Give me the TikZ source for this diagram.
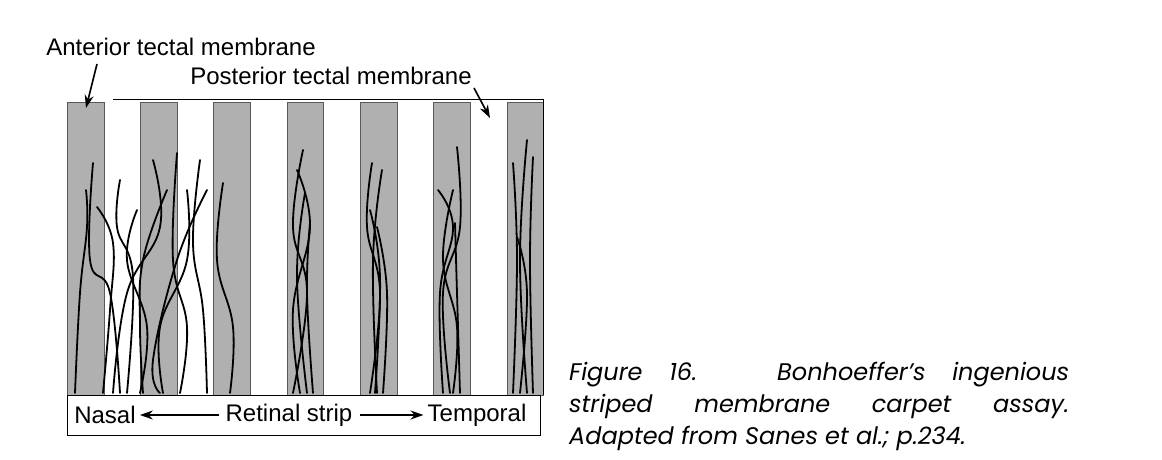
\documentclass[tikz,border=0pt]{standalone}
\usetikzlibrary{arrows.meta}
\usepackage{fontspec}
\setmainfont{Liberation Sans}
\newfontfamily\capfont{Poppins}
\begin{document}
\begin{tikzpicture}[x=1pt,y=-1pt,
  stripe/.style={fill=gray!62,draw=gray!70!black,line width=0.4pt},
  fiber/.style={line width=1.8pt,line cap=round},
  lbl/.style={font=\fontsize{24}{28}\selectfont,inner sep=1pt},
  arr/.style={-{Stealth[length=13pt,width=9pt]},line width=1.6pt}]
\useasboundingbox (0,0) rectangle (1162,460);
\foreach \i in {0,...,6}{
  \fill[stripe] (67+73.3*\i,102) rectangle (67+73.3*\i+36.7,395);
}
\draw[line width=0.6pt] (113,99) -- (543,99) -- (543,395);
\node[draw,line width=0.6pt,minimum width=473pt,minimum height=40pt,inner sep=0pt,anchor=north west] (strip) at (67,395) {};
% fibers
\foreach \p in {
 {(75,393)(80,293)(87,227)(86,190)},
 {(93,163)(90,260)(110,293)(120,393)},
 {(97,207)(113,243)(110,310)(103,393)},
 {(120,180)(117,227)(133,277)(127,393)},
 {(153,160)(160,227)(127,293)(113,393)},
 {(167,190)(143,260)(140,327)(143,393)},
 {(177,153)(173,260)(187,327)(180,393)},
 {(187,190)(187,260)(160,327)(163,393)},
 {(200,160)(193,243)(203,310)(207,393)},
 {(207,190)(177,260)(153,360)(160,393)},
 {(223,183)(217,260)(233,327)(230,393)},
 {(137,210)(127,260)(147,327)(140,393)},
 {(303,150)(293,227)(307,293)(293,393)},
 {(297,170)(310,227)(293,310)(300,393)},
 {(310,223)(307,293)(313,393)},
 {(305,193)(297,277)(307,393)},
 {(372,163)(367,227)(380,293)(370,393)},
 {(382,170)(373,260)(377,393)},
 {(377,227)(387,293)(383,393)},
 {(370,210)(380,277)(375,393)},
 {(457,147)(460,227)(443,293)(450,393)},
 {(438,190)(453,227)(440,293)(443,393)},
 {(453,190)(443,260)(457,327)(453,393)},
 {(455,223)(457,293)(460,393)},
 {(527,140)(520,260)(527,393)},
 {(513,163)(517,260)(513,393)},
 {(533,157)(530,260)(533,393)},
 {(517,237)(527,293)(520,393)}}
 \draw[fiber] plot[smooth,tension=0.7] coordinates \p;
% labels
\node[lbl] (ant) at (181,47) {Anterior tectal membrane};
\node[lbl] (post) at (331,76) {Posterior tectal membrane};
\coordinate (antend) at (86,108);
\coordinate (postend) at (490,118);
\draw[arr] (97,64) -- (antend);
\draw[arr] (474,88) -- (postend);
\node[lbl] (nasal) at (105,415) {Nasal};
\node[lbl] (ret) at (289,415) {Retinal strip};
\node[lbl] (temp) at (477,415) {Temporal};
\draw[arr] ([xshift=-5pt]ret.west) -- ([xshift=3pt]nasal.east);
\draw[arr] ([xshift=6pt]ret.east) -- ([xshift=-3pt]temp.west);
\node[font=\capfont\itshape\fontsize{24}{32}\selectfont,text width=500pt,align=justify,anchor=north west,inner sep=0pt] (cap) at (569,362)
 {Figure 16.\ \ \ Bonhoeffer’s ingenious\linebreak striped membrane carpet assay.\linebreak Adapted from Sanes et al.; p.234.};
\end{tikzpicture}
\end{document}
